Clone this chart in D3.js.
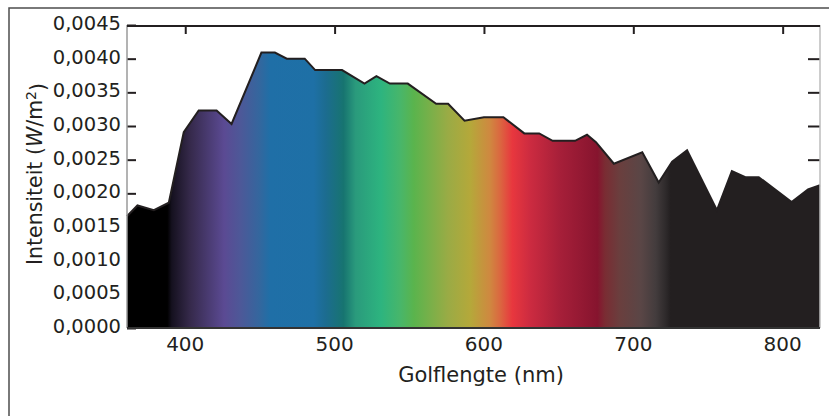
<!DOCTYPE html>
<html>
<head>
<meta charset="utf-8">
<script src="https://cdn.jsdelivr.net/npm/d3@7"></script>
<style>
	body { margin: 0; background: #fff; }
	text { font-family: "DejaVu Sans", sans-serif; fill: #231f20; }
</style>
</head>
<body>
<svg width="829" height="416"></svg>
<script>
// wavelength (nm) and intensity (W/m2)
var wavelength = [361, 368, 379, 389, 399, 409, 421, 431, 451, 460, 468, 480, 487, 505, 520, 528, 537, 549, 568, 576,
	587, 600, 613, 627, 637, 646, 661, 669, 675, 687, 706, 717, 726, 736, 756, 766, 775, 784, 806, 817, 825];
var intensity = [0.00166, 0.00182, 0.00175, 0.00186, 0.00291, 0.00323, 0.00323, 0.00303, 0.00409, 0.00409,
	0.00400, 0.00400, 0.00383, 0.00383, 0.00363, 0.00374, 0.00363, 0.00363, 0.00333, 0.00333,
	0.00308, 0.00313, 0.00313, 0.00289, 0.00289, 0.00278, 0.00278, 0.00287, 0.00276, 0.00244,
	0.00261, 0.00216, 0.00247, 0.00264, 0.00175, 0.00233, 0.00224, 0.00224, 0.00187, 0.00206, 0.00212];

var xTicks = [400, 500, 600, 700, 800];
var yTicks = [0, 0.0005, 0.001, 0.0015, 0.002, 0.0025, 0.003, 0.0035, 0.004, 0.0045];

// spectrum colours along the wavelength axis
var gradNm = [388, 391, 403, 426, 437, 450, 457, 486, 494, 506, 514, 531, 544, 553, 576, 591, 604, 611, 619, 631,
	651, 676, 681, 691, 705, 715, 722, 725];
var gradColor = ["#000000", "#15111f", "#35294a", "#5b4a93", "#4d5898", "#33679e", "#1f6fa7", "#1e70a6", "#1c6c90", "#177470",
	"#2a9a7c", "#2db47f", "#48b66a", "#5ab44d", "#9aab45", "#b5a83a", "#cf8840", "#db6640", "#e8373e", "#cc2b40",
	"#a61f39", "#86142e", "#7a2c33", "#6a3f3e", "#5a4646", "#433c3d", "#2d292a", "#231f20"];

var data = wavelength.map(function(w, i) {
	return { nm: w, value: intensity[i] };
});

var svg = d3.select("svg");
var plotLeft = 127, plotRight = 820, plotTop = 25, plotBottom = 328;

var x = d3.scaleLinear().domain([361, 825]).range([plotLeft, plotRight]);
var y = d3.scaleLinear().domain([0, 0.0045]).range([plotBottom, plotTop]);
var fmt = function(d) { return d3.format(".4f")(d).replace(".", ","); };

// outer frame
svg.append("rect")
	.attr("x", 9).attr("y", 8)
	.attr("width", 840).attr("height", 430)
	.attr("fill", "none")
	.attr("stroke", "#4d4d4d")
	.attr("stroke-width", 1.5);

var grad = svg.append("defs").append("linearGradient")
	.attr("id", "spectrum")
	.attr("gradientUnits", "userSpaceOnUse")
	.attr("x1", x(361)).attr("x2", x(825))
	.attr("y1", 0).attr("y2", 0);
grad.selectAll("stop")
	.data(gradNm)
	.enter().append("stop")
	.attr("offset", function(d) { return (x(d) - x(361)) / (x(825) - x(361)); })
	.attr("stop-color", function(d, i) { return gradColor[i]; });

// inward ticks (drawn under the fill)
svg.append("g")
	.attr("transform", "translate(" + plotLeft + ",0)")
	.call(d3.axisRight(y).tickValues(yTicks).tickSize(9).tickFormat(""))
	.call(function(g) { g.select(".domain").remove(); })
	.selectAll("line").attr("stroke", "#231f20").attr("stroke-width", 2);
svg.append("g")
	.attr("transform", "translate(" + plotRight + ",0)")
	.call(d3.axisLeft(y).tickValues(yTicks.slice(1, 9)).tickSize(12).tickFormat(""))
	.call(function(g) { g.select(".domain").remove(); })
	.selectAll("line").attr("stroke", "#231f20").attr("stroke-width", 2);
svg.append("g")
	.attr("transform", "translate(0," + plotTop + ")")
	.call(d3.axisBottom(x).tickValues(xTicks).tickSize(9).tickFormat(""))
	.call(function(g) { g.select(".domain").remove(); })
	.selectAll("line").attr("stroke", "#231f20").attr("stroke-width", 2);

var area = d3.area()
	.x(function(d) { return x(d.nm); })
	.y0(y(0))
	.y1(function(d) { return y(d.value); });
var line = d3.line()
	.x(function(d) { return x(d.nm); })
	.y(function(d) { return y(d.value); });

svg.append("path")
	.datum(data)
	.attr("fill", "url(#spectrum)")
	.attr("d", area);
svg.append("path")
	.datum(data)
	.attr("fill", "none")
	.attr("stroke", "#231f20")
	.attr("stroke-width", 2)
	.attr("stroke-linejoin", "miter")
	.attr("d", line);

// plot box
svg.append("line").attr("x1", plotLeft).attr("x2", plotLeft).attr("y1", plotTop).attr("y2", plotBottom)
	.attr("stroke", "#9a9a9a").attr("stroke-width", 1.5);
svg.append("line").attr("x1", plotRight).attr("x2", plotRight).attr("y1", plotTop).attr("y2", plotBottom)
	.attr("stroke", "#bdbdbd").attr("stroke-width", 1.5);
svg.append("line").attr("x1", plotLeft).attr("x2", plotRight).attr("y1", plotTop + 1).attr("y2", plotTop + 1)
	.attr("stroke", "#231f20").attr("stroke-width", 2);
svg.append("line").attr("x1", plotLeft).attr("x2", plotRight).attr("y1", plotBottom).attr("y2", plotBottom)
	.attr("stroke", "#333").attr("stroke-width", 2);

// tick labels
svg.append("g").selectAll("text")
	.data(yTicks)
	.enter().append("text")
	.attr("x", 121)
	.attr("y", function(d) { return y(d); })
	.attr("dy", "0.25em")
	.attr("text-anchor", "end")
	.style("font-size", "19.5px")
	.text(fmt);
svg.append("g").selectAll("text")
	.data(xTicks)
	.enter().append("text")
	.attr("x", function(d) { return x(d); })
	.attr("y", 351)
	.attr("text-anchor", "middle")
	.style("font-size", "20px")
	.text(function(d) { return d; });

// axis titles
svg.append("text")
	.attr("x", 481).attr("y", 382)
	.attr("text-anchor", "middle")
	.style("font-size", "21px")
	.text("Golflengte (nm)");

var yt = svg.append("text")
	.attr("transform", "translate(42,174) rotate(-90)")
	.attr("text-anchor", "middle")
	.style("font-size", "20.5px");
yt.append("tspan").text("Intensiteit (");
yt.append("tspan").style("font-style", "italic").text("W");
yt.append("tspan").text("/m");
yt.append("tspan").attr("dy", "-0.45em").style("font-size", "14px").text("2");
yt.append("tspan").attr("dy", "0.45em").text(")");
</script>
</body>
</html>
